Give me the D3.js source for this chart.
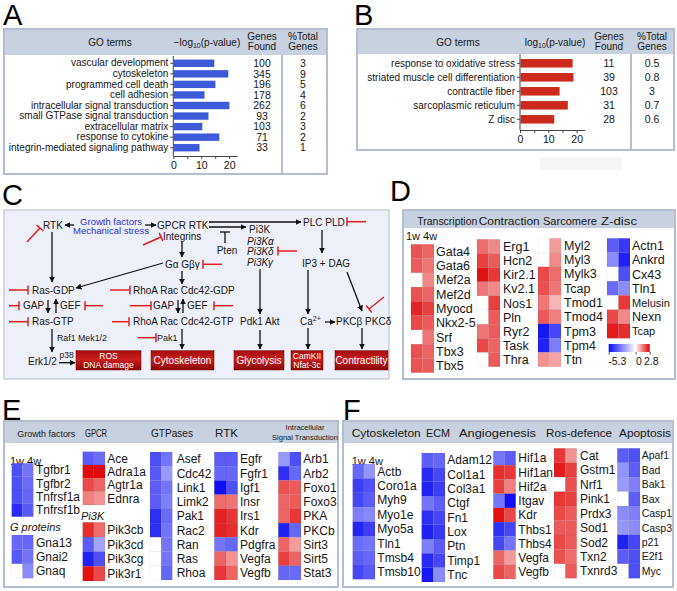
<!DOCTYPE html>
<html><head><meta charset="utf-8">
<script src="https://cdn.jsdelivr.net/npm/d3@7"></script>
<style>
body{margin:0;background:#fff;}
svg{display:block;font-family:"Liberation Sans",Arial,Helvetica,sans-serif;}
</style></head><body>
<script>
// ---------------- DATA ----------------
const goTermsA = ["vascular development","cytoskeleton","programmed cell death","cell adhesion","intracellular signal transduction","small GTPase signal transduction","extracellular matrix","response to cytokine","integrin-mediated signaling pathway"];
const logPA = [14.5,19.5,14.9,11.0,19.9,12.4,10.2,16.3,9.2];
const genesFoundA = [100,345,196,178,262,93,103,71,33];
const pctTotalA = [3,9,5,4,6,2,3,2,1];

const goTermsB = ["response to oxidative stress","striated muscle cell differentiation","contractile fiber","sarcoplasmic reticulum","Z disc"];
const logPB = [18.4,18.7,13.8,16.7,11.9];
const genesFoundB = [11,39,103,31,28];
const pctTotalB = ["0.5","0.8","3","0.7","0.6"];

const barTicks = [0,5,10,15,20];
const barTickLabels = [0,10,20];
const timepoints = ["1w","4w"];
const colorDomain = [-5.3,0,2.8];

// Panel D
const dTranscription = ["Gata4","Gata6","Mef2a","Mef2d","Myocd","Nkx2-5","Srf","Tbx3","Tbx5"];
const dTranscription1w = [1.9,1.8,0,1.9,2.4,2.0,0,1.9,1.9];
const dTranscription4w = [1.7,1.5,1.3,1.7,2.1,1.8,1.5,1.7,1.8];
const dContraction = ["Erg1","Hcn2","Kir2.1","Kv2.1","Nos1","Pln","Ryr2","Task","Thra"];
const dContraction1w = [1.6,2.1,2.6,1.5,0,0,1.5,2.0,0];
const dContraction4w = [1.3,1.8,2.2,1.3,2.1,1.8,1.8,1.7,1.8];
const dSarcomere = ["Myl2","Myl3","Mylk3","Tcap","Tmod1","Tmod4","Tpm3","Tpm4","Ttn"];
const dSarcomere1w = [0,0,2.0,1.9,1.5,1.8,-5.0,-4.8,1.2];
const dSarcomere4w = [1.1,1.3,1.6,1.5,0.8,1.4,-4.0,-2.8,1.0];
const dZdisc = ["Actn1","Ankrd","Cx43","Tln1","Melusin","Nexn","Tcap"];
const dZdisc1w = [-3.5,-2.5,0,-3.2,0,2.0,2.5];
const dZdisc4w = [-4.3,-4.8,-3.8,-2.5,2.2,1.3,2.3];

// Panel E
const eGrowth = ["Tgfbr1","Tgfbr2","Tnfrsf1a","Tnfrsf1b"];
const eGrowth1w = [-3.8,-3.8,-3.8,-4.6];
const eGrowth4w = [-3.0,-3.2,-3.3,-3.6];
const eGprot = ["Gna13","Gnai2","Gnaq"];
const eGprot1w = [-3.3,-3.6,0];
const eGprot4w = [-3.3,-3.0,-2.5];
const eGPCR = ["Ace","Adra1a","Agtr1a","Ednra"];
const eGPCR1w = [-3.5,2.7,2.0,1.4];
const eGPCR4w = [-3.2,2.7,1.7,1.2];
const ePi3K = ["Pik3cb","Pik3cd","Pik3cg","Pik3r1"];
const ePi3K1w = [2.3,-3.5,-4.8,2.6];
const ePi3K4w = [1.6,-2.0,-3.8,2.0];
const eGTPase = ["Asef","Cdc42","Link1","Limk2","Pak1","Rac2","Ran","Ras","Rhoa"];
const eGTPase1w = [-3.8,-3.6,-3.5,-3.5,-4.5,-4.5,0,0,0];
const eGTPase4w = [-3.0,-2.2,-3.0,-2.8,-3.2,-3.0,-3.0,-3.0,-3.3];
const eRTK = ["Egfr","Fgfr1","Igf1","Insr","Irs1","Kdr","Pdgfra","Vegfa","Vegfb"];
const eRTK1w = [-3.5,-3.3,-5.2,1.6,2.4,2.4,-3.0,1.7,2.2];
const eRTK4w = [-3.5,-3.3,-3.8,1.5,2.2,2.3,-3.3,1.2,1.7];
const eIntra = ["Arb1","Arb2","Foxo1","Foxo3","PKA","PKCb","Sirt3","Sirt5","Stat3"];
const eIntra1w = [-2.2,-4.5,1.9,1.7,1.7,-4.8,1.7,2.1,-3.3];
const eIntra4w = [-3.8,-3.3,1.8,1.8,2.2,-3.3,1.1,1.7,-3.2];

// Panel F
const fCyto = ["Actb","Coro1a","Myh9","Myo1e","Myo5a","Tln1","Tmsb4","Tmsb10"];
const fCyto1w = [-3.3,-4.2,-4.0,-2.8,-4.7,-3.2,-3.5,-4.0];
const fCyto4w = [-2.3,-3.8,-3.5,-2.6,-4.2,-3.0,-3.3,-3.6];
const fECM = ["Adam12","Col1a1","Col3a1","Ctgf","Fn1","Lox","Ptn","Timp1","Tnc"];
const fECM1w = [-3.5,-4.6,-4.8,-3.0,-4.5,-4.8,-2.8,-4.6,-5.0];
const fECM4w = [-3.3,-4.0,-4.2,-3.5,-4.0,-4.3,-3.5,-4.0,-2.5];
const fAngio = ["Hif1a","Hif1an","Hif2a","Itgav","Kdr","Thbs1","Thbs4","Vegfa","Vegfb"];
const fAngio1w = [-3.0,2.3,2.1,-3.0,2.6,-4.5,-4.0,1.7,2.0];
const fAngio4w = [-3.5,2.2,1.4,-5.2,2.0,-4.0,-3.0,1.1,1.7];
const fRos = ["Cat","Gstm1","Nrf1","Pink1","Prdx3","Sod1","Sod2","Txn2","Txnrd3"];
const fRos1w = [2.2,2.5,0,2.2,2.0,1.8,2.0,1.9,0];
const fRos4w = [1.2,2.1,1.9,2.1,1.8,1.8,1.8,1.6,1.8];
const fApop = ["Apaf1","Bad","Bak1","Bax","Casp1","Casp3","p21","E2f1","Myc"];
const fApop1w = [-3.5,-2.3,-2.2,0,-2.5,-2.3,-4.8,-3.5,0];
const fApop4w = [-3.8,-3.5,-2.8,-3.5,-2.8,-2.5,-4.0,-3.8,-3.8];

// ---------------- DRAWING ----------------
const W = 677, H = 591;
const BORDER = "#b3bed0", BAND = "#c8d1e0", INK = "#161616";
const svg = d3.select("body").append("svg").attr("width",W).attr("height",H);
const defs = svg.append("defs");
defs.append("marker").attr("id","ah").attr("viewBox","0 0 10 10").attr("refX",9).attr("refY",5)
  .attr("markerWidth",6).attr("markerHeight",6).attr("markerUnits","userSpaceOnUse").attr("orient","auto")
  .append("path").attr("d","M0,0L10,5L0,10z").attr("fill","#111");
const rg = defs.append("linearGradient").attr("id","redbox").attr("x1",0).attr("y1",0).attr("x2",0).attr("y2",1);
rg.append("stop").attr("offset","0%").attr("stop-color","#a30c0c");
rg.append("stop").attr("offset","45%").attr("stop-color","#cb1e1e");
rg.append("stop").attr("offset","100%").attr("stop-color","#8a0505");

const color = d3.scaleLinear().domain(colorDomain).range(["#0a0af2","#ffffff","#e00000"]).clamp(true);

function text(g,x,y,s,o={}){
  const t = g.append("text").attr("x",x).attr("y",y).attr("font-size",o.fs||10)
    .attr("fill",o.fill||INK).attr("text-anchor",o.anchor||"start").text(s);
  if(o.italic) t.attr("font-style","italic");
  if(o.len) t.attr("textLength",o.len).attr("lengthAdjust","spacingAndGlyphs");
  return t;
}
function frame(x,y,w,h,bandH){
  svg.append("rect").attr("x",x).attr("y",y).attr("width",w).attr("height",h).attr("fill","#fff");
  svg.append("rect").attr("x",x).attr("y",y).attr("width",w).attr("height",bandH).attr("fill",BAND);
  svg.append("rect").attr("x",x).attr("y",y).attr("width",w).attr("height",h).attr("fill","none")
    .attr("stroke",BORDER).attr("stroke-width",2);
}
// panel letters
[["A",3,25],["B",354,25],["C",2,205],["D",390,201],["E",2,420],["F",343,420]].forEach(d=>text(svg,d[1],d[2],d[0],{fs:29,fill:"#000"}));

// ---------- GO bar charts ----------
function goChart(o){
  const g = svg.append("g");
  const x = d3.scaleLinear().domain([0,o.max]).range([o.x0,o.x1]);
  const y = d3.scaleBand().domain(o.terms).range([o.yTop,o.yBot]).paddingInner(o.pad).paddingOuter(o.pad/2);
  g.selectAll("rect.bar").data(o.terms).join("rect").attr("class","bar")
    .attr("x",x(0)+0.5).attr("y",d=>y(d)).attr("height",y.bandwidth())
    .attr("width",(d,i)=>x(o.vals[i])-x(0)).attr("fill",o.color);
  const ya = g.append("g").attr("transform",`translate(${o.x0},0)`)
    .call(d3.axisLeft(y).tickSize(3).tickPadding(2).tickSizeOuter(0));
  ya.select(".domain").remove();
  ya.selectAll("text").attr("font-size",10).attr("fill",INK).attr("font-family","Liberation Sans,Arial,sans-serif");
  ya.selectAll("line").attr("stroke","#444");
  g.append("line").attr("x1",o.x0).attr("x2",o.x0).attr("y1",o.yTop-2).attr("y2",o.axisY).attr("stroke","#444");
  const xa = g.append("g").attr("transform",`translate(0,${o.axisY})`)
    .call(d3.axisBottom(x).tickValues(barTicks).tickFormat(d=>barTickLabels.includes(d)?d:"").tickSize(3).tickSizeOuter(0));
  xa.selectAll("text").attr("font-size",10.5).attr("fill",INK).attr("font-family","Liberation Sans,Arial,sans-serif");
  xa.selectAll("line, path").attr("stroke","#444");
  o.terms.forEach((t,i)=>{
    const cy = y(t)+y.bandwidth()/2+3.7;
    text(g,o.genesX,cy,o.genes[i],{fs:10.5,anchor:"middle"});
    text(g,o.pctX,cy,o.pct[i],{fs:10.5,anchor:"middle"});
  });
}
// A
frame(4,29,323,145,26);
svg.append("line").attr("x1",282).attr("x2",282).attr("y1",55).attr("y2",174).attr("stroke",BORDER).attr("stroke-width",2);
text(svg,110,45.5,"GO terms",{anchor:"middle"});
{ const t = text(svg,207,45.5,"",{anchor:"middle"});
  t.append("tspan").text("\u2212log");
  t.append("tspan").text("10").attr("font-size",7).attr("dy",2.5);
  t.append("tspan").text("(p-value)").attr("dy",-2.5); }
text(svg,262,40,"Genes",{anchor:"middle"}); text(svg,262,50,"Found",{anchor:"middle"});
text(svg,303,40,"%Total",{anchor:"middle"}); text(svg,303,50,"Genes",{anchor:"middle"});
goChart({terms:goTermsA,vals:logPA,genes:genesFoundA,pct:pctTotalA,x0:173.3,x1:237,max:22.8,
  yTop:58,yBot:153,pad:0.3,axisY:156,color:"#3d5bd8",genesX:262,pctX:303});

// B
svg.append("rect").attr("x",540).attr("y",157).attr("width",82).attr("height",13).attr("fill","#f5f5f5");
frame(357,29,317,121,25);
svg.append("line").attr("x1",631).attr("x2",631).attr("y1",54).attr("y2",150).attr("stroke",BORDER).attr("stroke-width",2);
text(svg,458,45.5,"GO terms",{anchor:"middle"});
{ const t = text(svg,555,45.5,"",{anchor:"middle"});
  t.append("tspan").text("log");
  t.append("tspan").text("10").attr("font-size",7).attr("dy",2.5);
  t.append("tspan").text("(p-value)").attr("dy",-2.5); }
text(svg,609,40,"Genes",{anchor:"middle"}); text(svg,609,50,"Found",{anchor:"middle"});
text(svg,652,40,"%Total",{anchor:"middle"}); text(svg,652,50,"Genes",{anchor:"middle"});
goChart({terms:goTermsB,vals:logPB,genes:genesFoundB,pct:pctTotalB,x0:520,x1:584.6,max:22.8,
  yTop:56.3,yBot:126.3,pad:0.39,axisY:130,color:"#cc2a1c",genesX:609,pctX:652});

// ---------- C pathway ----------
svg.append("rect").attr("x",4).attr("y",210).attr("width",385).attr("height",169)
  .attr("fill","#eef0f9").attr("stroke","#bfc3cc").attr("stroke-width",1.2);
const gc = svg.append("g");
const nodesC = [
  [43,229,"RTK"],[157,228.7,"GPCR RTK"],[163,239.7,"Integrins"],[303,226.4,"PLC PLD"],[249,232.7,"Pi3K"],
  [165,268,"G\u03b1 G\u03b2\u03b3"],[302,266.7,"IP3 + DAG"],[32,293.7,"Ras-GDP"],[133,293.7,"RhoA Rac Cdc42-GDP"],
  [23,309.4,"GAP"],[60,309.4,"GEF"],[153,309.4,"GAP"],[187,309.4,"GEF"],
  [32,325.4,"Ras-GTP"],[133,325.4,"RhoA Rac Cdc42-GTP"],[240,325.4,"Pdk1 Akt"],[336,325.4,"PKC\u03b2 PKC\u03b4"],
  [28,364.7,"Erk1/2"]
];
nodesC.forEach(d=>text(gc,d[0],d[1],d[2],{fs:10}));
text(gc,227,253.7,"Pten",{fs:10,anchor:"middle"});
[[244.7,"Pi3K\u03b1"],[254.7,"Pi3K\u03b4"],[265.7,"Pi3K\u03b3"]].forEach(d=>text(gc,247,d[0],d[1],{fs:10,italic:true}));
{ const t = text(gc,300,325.4,"Ca",{fs:10}); t.append("tspan").text("2+").attr("font-size",7).attr("dy",-4); }
text(gc,111,224.5,"Growth factors",{fs:9.5,anchor:"middle",fill:"#2e2ed4"});
text(gc,111,234,"Mechanical stress",{fs:9.5,anchor:"middle",fill:"#2e2ed4"});
text(gc,57,341.2,"Raf1 Mek1/2",{fs:8.8});
text(gc,157,341,"Pak1",{fs:9});
text(gc,59.5,358,"p38",{fs:8.5});
const arrowsC = [
  [74,225,65,225],[145,225,156,225],[52,232,52,282],[52,329,52,352],[59,362.7,75,362.7],
  [48,300,48,313],[56,313,56,299],[178,300,178,313],[183,313,183,299],
  [182,242,182,257],[182,271,182,284],[163,263,76,288],
  [209,222,301,222],[209,227,246,227],[260,269,260,314],[260,330,260,349],
  [322,230,322,253],[308,270,308,314],[347,272,362,311],[325,322,335,322],
  [308,328,308,349],[362,328,362,349],[182,329,182,349]
];
arrowsC.forEach(a=>gc.append("line").attr("x1",a[0]).attr("y1",a[1]).attr("x2",a[2]).attr("y2",a[3])
  .attr("stroke","#111").attr("stroke-width",1.3).attr("marker-end","url(#ah)"));
// Pten T
gc.append("line").attr("x1",225).attr("x2",225).attr("y1",232).attr("y2",243).attr("stroke","#111").attr("stroke-width",1.3);
gc.append("line").attr("x1",220).attr("x2",230).attr("y1",232).attr("y2",232).attr("stroke","#111").attr("stroke-width",1.3);
const inhibC = [
  [27,242,40,228],[143,245,161,237],[9,290,28,290],[9,305.7,19,305.7],[103,305.7,85,305.7],[9,321.7,28,321.7],
  [110,290,130,290],[130,305.7,151,305.7],[233,305.7,214,305.7],[112,321.7,129,321.7],[138,337.7,156,337.7],
  [222,264.3,203,264.3],[366,221.7,347,221.7],[297,251,278,251],[384,297,369,309]
];
inhibC.forEach(a=>{
  const dx=a[2]-a[0], dy=a[3]-a[1], L=Math.hypot(dx,dy), px=-dy/L*4.5, py=dx/L*4.5;
  gc.append("line").attr("x1",a[0]).attr("y1",a[1]).attr("x2",a[2]).attr("y2",a[3]).attr("stroke","#e0201c").attr("stroke-width",1.5);
  gc.append("line").attr("x1",a[2]-px).attr("y1",a[3]-py).attr("x2",a[2]+px).attr("y2",a[3]+py).attr("stroke","#e0201c").attr("stroke-width",1.5);
});
const boxesC = [[76,65,["ROS","DNA damage"]],[151,63,["Cytoskeleton"]],[234,50,["Glycolysis"]],[291,32,["CamKII","Nfat-3c"]],[335,53,["Contractility"]]];
boxesC.forEach(b=>{
  gc.append("rect").attr("x",b[0]).attr("y",350.7).attr("width",b[1]).attr("height",19.3).attr("fill","url(#redbox)").attr("stroke","#7a0000").attr("stroke-width",0.5);
  if(b[2].length===1) text(gc,b[0]+b[1]/2,364,b[2][0],{fs:10,anchor:"middle",fill:"#fff"});
  else { text(gc,b[0]+b[1]/2,358.5,b[2][0],{fs:8.5,anchor:"middle",fill:"#fff"}); text(gc,b[0]+b[1]/2,367.5,b[2][1],{fs:8.5,anchor:"middle",fill:"#fff"}); }
});

// ---------- heatmaps ----------
function heatmap(genes,v1,v2,x0,x1,y0,y1,labelX,fs,smallSet){
  const g = svg.append("g");
  const y = d3.scaleBand().domain(genes).range([y0,y1]);
  const x = d3.scaleBand().domain(timepoints).range([x0,x1]);
  const cells = [];
  genes.forEach((gn,i)=>{ cells.push({gene:gn,tp:"1w",v:v1[i]}); cells.push({gene:gn,tp:"4w",v:v2[i]}); });
  g.selectAll("rect").data(cells).join("rect")
    .attr("x",d=>x(d.tp)).attr("y",d=>y(d.gene)).attr("width",x.bandwidth()).attr("height",y.bandwidth())
    .attr("fill",d=>color(d.v)).attr("stroke","rgba(0,0,0,0.07)").attr("stroke-width",0.6);
  genes.forEach(gn=>{
    const small = smallSet && smallSet.includes(gn);
    const f = small ? fs-1.5 : fs;
    text(g,labelX,y(gn)+y.bandwidth()/2+f*0.36,gn,{fs:f});
  });
}
// D
frame(403,210,272,169,18);
[[417.3,"Transcription",60],[478.7,"Contraction",61],[543,"Sarcomere",54],[601,"Z-disc",36]].forEach(d=>text(svg,d[0],224.5,d[1],{fs:10.5,len:d[2]}));
text(svg,406,240,"1w 4w",{fs:11});
heatmap(dTranscription,dTranscription1w,dTranscription4w,411,434,244.3,372.7,436,12.5);
heatmap(dContraction,dContraction1w,dContraction4w,477,500,239.3,366.7,503,12.5);
heatmap(dSarcomere,dSarcomere1w,dSarcomere4w,538,561,238.3,366.7,564,12.5);
heatmap(dZdisc,dZdisc1w,dZdisc4w,607,630,238.3,338.3,632,12.5,["Melusin","Tcap"]);
// colorbar
{
  const cg = defs.append("linearGradient").attr("id","cbar");
  const cs = d3.scaleLinear().domain([colorDomain[0],colorDomain[2]]).range([608.7,649.7]);
  colorDomain.forEach(v=>cg.append("stop").attr("offset",(v-colorDomain[0])/(colorDomain[2]-colorDomain[0])).attr("stop-color",color(v)));
  svg.append("rect").attr("x",608.7).attr("y",344).attr("width",41).attr("height",8).attr("fill","url(#cbar)");
  const ax = svg.append("g").attr("transform","translate(0,352)").call(d3.axisBottom(cs).tickValues(colorDomain).tickSize(2.5).tickSizeOuter(0).tickFormat(d=>d));
  ax.select(".domain").remove();
  ax.selectAll("line").attr("stroke","#555");
  ax.selectAll("text").attr("font-size",10.5).attr("fill",INK).attr("font-family","Liberation Sans,Arial,sans-serif")
    .attr("dx",(d,i)=>[8,3,1][i]);
}
// E
frame(4,421,334,166,22);
text(svg,17.3,437,"Growth factors",{fs:9.5,len:58}); text(svg,85,437,"GPCR",{fs:11,len:22});
text(svg,151,437,"GTPases",{fs:11,len:42}); text(svg,215,437,"RTK",{fs:11,len:23});
text(svg,305,429.5,"Intracellular",{fs:7.5,anchor:"middle"}); text(svg,305,439.5,"Signal Transduction",{fs:7.5,anchor:"middle"});
text(svg,10,465,"1w 4w",{fs:11});
text(svg,10,530.5,"G proteins",{fs:11,italic:true});
text(svg,81,520,"Pi3K",{fs:11,italic:true});
heatmap(eGrowth,eGrowth1w,eGrowth4w,11.7,33.3,463.3,516.7,36,12);
heatmap(eGprot,eGprot1w,eGprot4w,11.7,33.3,535,578.3,36,12);
heatmap(eGPCR,eGPCR1w,eGPCR4w,82.7,105,451.7,505,107.3,12);
heatmap(ePi3K,ePi3K1w,ePi3K4w,82.7,105,522.3,581,107.3,12);
heatmap(eGTPase,eGTPase1w,eGTPase4w,150,172.3,452,580,176.7,12);
heatmap(eRTK,eRTK1w,eRTK4w,214.3,237.7,452,580,240,12);
heatmap(eIntra,eIntra1w,eIntra4w,278.3,301,452,580,303.3,12);
// F
frame(343,421,330,166,22);
[[351.7,"Cytoskeleton",69],[426,"ECM",24],[459,"Angiogenesis",77],[546,"Ros-defence",66],[619,"Apoptosis",52]].forEach(d=>text(svg,d[0],437,d[1],{fs:11.5,len:d[2]}));
text(svg,351.7,465,"1w 4w",{fs:11});
heatmap(fCyto,fCyto1w,fCyto4w,352.7,375,464,579.3,377.3,12);
heatmap(fECM,fECM1w,fECM4w,421.7,445,453,582,447.3,12);
heatmap(fAngio,fAngio1w,fAngio4w,493.3,515.7,451,579,518.3,12);
heatmap(fRos,fRos1w,fRos4w,554,576.7,448.3,578.3,580,12);
heatmap(fApop,fApop1w,fApop4w,617.3,640,448.3,578.3,641.7,10.5);
</script>
</body></html>
